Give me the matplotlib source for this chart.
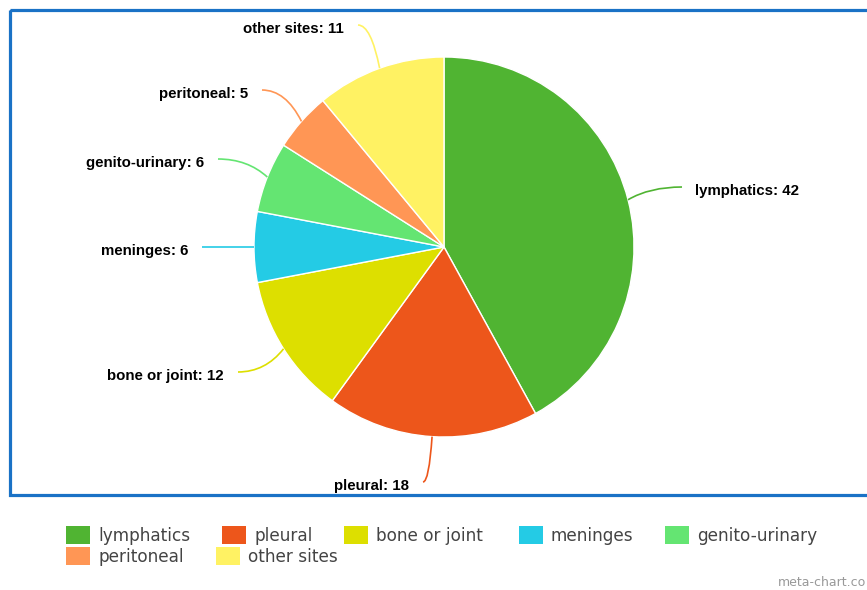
import matplotlib.pyplot as plt
import numpy as np
from matplotlib.patches import Rectangle, PathPatch
from matplotlib.path import Path

sites = ['lymphatics', 'pleural', 'bone or joint', 'meninges',
         'genito-urinary', 'peritoneal', 'other sites']
counts = [42, 18, 12, 6, 6, 5, 11]
colors = ['#50B432', '#ED561B', '#DDDF00', '#24CBE5',
          '#64E572', '#FF9655', '#FFF263']
# where each data label ends (pixels)
label_pos = [(682, 187), (423, 482), (238, 372), (202, 247),
             (218, 159), (262, 90), (358, 25)]

W, H = 867, 590
fig = plt.figure(figsize=(W / 100, H / 100), dpi=100)
ax = fig.add_axes([0, 0, 1, 1])

cx, cy, r = 444, 247, 190
# y axis is flipped, so counterclock in data = clockwise on screen
wedges, _ = ax.pie(counts, colors=colors, startangle=-90, counterclock=True,
                   center=(cx, cy), radius=r,
                   wedgeprops=dict(edgecolor='white', linewidth=1))
ax.set_xlim(0, W)
ax.set_ylim(H, 0)
ax.set_aspect('equal')
ax.axis('off')

total = sum(counts)
cum = 0
for name, n, col, (lx, ly) in zip(sites, counts, colors, label_pos):
    mid = 90 - (cum + n / 2) / total * 360
    cum += n
    a = np.radians(mid)
    x0, y0 = cx + r * np.cos(a), cy - r * np.sin(a)
    side = 1 if lx > cx else -1
    k = max(abs(x0 - lx) * 0.6, 6)
    ctrl = (lx - side * k, ly)
    path = Path([(x0, y0), ctrl, (lx, ly)], [Path.MOVETO, Path.CURVE3, Path.CURVE3])
    ax.add_patch(PathPatch(path, fc='none', ec=col, lw=1.2))
    if side > 0:
        ax.text(lx + 13, ly + 4, f'{name}: {n}', ha='left', va='center',
                fontsize=10.8, fontweight='bold', family='Liberation Sans', color='black')
    else:
        ax.text(lx - 14, ly + 4, f'{name}: {n}', ha='right', va='center',
                fontsize=10.8, fontweight='bold', family='Liberation Sans', color='black')

# frame
ax.add_patch(Rectangle((9.5, 9.5), 880, 485.5, fill=False, ec='#1a72c6', lw=2.3,
                       clip_on=False))

# legend
leg_x = [66, 222, 344, 519, 665, 66, 216]
leg_y = [535, 535, 535, 535, 535, 556, 556]
for name, col, x, y in zip(sites, colors, leg_x, leg_y):
    ax.add_patch(Rectangle((x, y - 9), 24, 18, fc=col, ec='none'))
    ax.text(x + 32, y - 1, name, ha='left', va='center_baseline', fontsize=12.2,
            color='#444444', family='DejaVu Sans')

ax.text(866, 582, 'meta-chart.co', ha='right', va='center', fontsize=9,
        color='#999999', family='DejaVu Sans')

fig.savefig('out.png', dpi=100)
